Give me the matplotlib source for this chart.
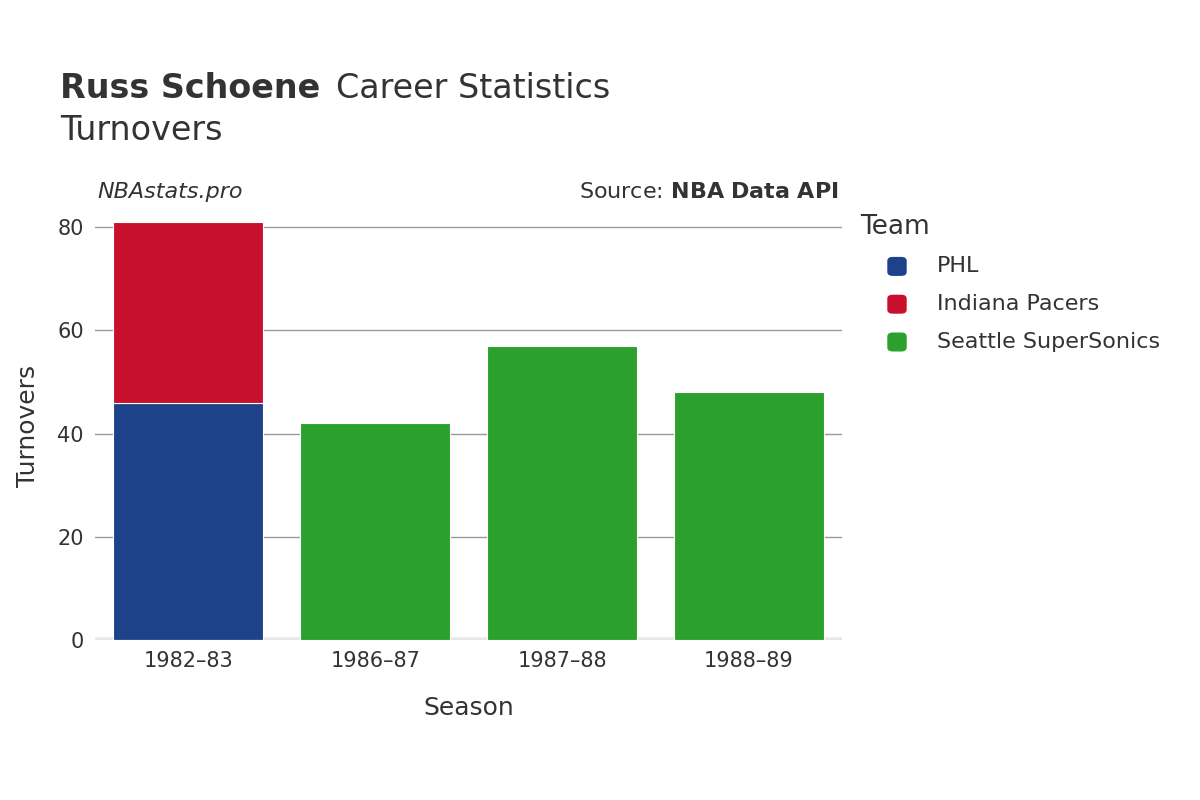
import matplotlib
matplotlib.use("Agg")
import matplotlib.pyplot as plt

seasons = ["1982–83", "1986–87", "1987–88", "1988–89"]
phl = [46, 0, 0, 0]
ind = [35, 0, 0, 0]
sea = [0, 42, 57, 48]
teams = ["PHL", "Indiana Pacers", "Seattle SuperSonics"]
colors = ["#1d4289", "#c8102e", "#2ca02c"]
yticks = [0, 20, 40, 60, 80]

fig = plt.figure(figsize=(12, 8), dpi=100)
ax = fig.add_axes([0.079, 0.2, 0.623, 0.5356])
x = range(len(seasons))
ax.bar(x, phl, width=0.8, color=colors[0], edgecolor="white", linewidth=0.8, zorder=3)
ax.bar(x, ind, width=0.8, bottom=phl, color=colors[1], edgecolor="white", linewidth=0.8, zorder=3)
ax.bar(x, sea, width=0.8, color=colors[2], edgecolor="white", linewidth=0.8, zorder=3)
ax.set_xlim(-0.5, 3.5)
ax.set_ylim(0, 83)
ax.set_yticks(yticks)
ax.set_xticks(list(x))
ax.set_xticklabels(seasons)
ax.grid(axis="y", color="#999999", linewidth=1, zorder=0)
for s in ax.spines.values():
    s.set_visible(False)
ax.axhline(0, color="#e8e8e8", linewidth=4, zorder=2)
ax.tick_params(length=0, labelsize=15, colors="#333333", pad=8)
ax.set_xlabel("Season", fontsize=18, color="#333333", labelpad=18)
ax.set_ylabel("Turnovers", fontsize=18, color="#333333", labelpad=12)

fig.text(0.05, 0.878, "Russ Schoene", fontsize=24, fontweight="bold", color="#333333", va="baseline")
fig.text(0.28, 0.878, "Career Statistics", fontsize=24, color="#333333", va="baseline")
fig.text(0.05, 0.825, "Turnovers", fontsize=24, color="#333333", va="baseline")
fig.text(0.081, 0.752, "NBAstats.pro", fontsize=16, style="italic", color="#333333", va="baseline")
fig.text(0.699, 0.752, "Source: $\\bf{NBA\\ Data\\ API}$", fontsize=16, color="#333333", ha="right", va="baseline")

fig.text(0.717, 0.707, "Team", fontsize=19, color="#333333", va="baseline")
for i, (t, c) in enumerate(zip(teams, colors)):
    y = 0.667 - i * 0.0945 / 2
    fig.patches.append(matplotlib.patches.FancyBboxPatch((0.740, y - 0.011), 0.015, 0.022,
                       boxstyle="round,pad=0,rounding_size=0.004", transform=fig.transFigure,
                       color=c, figure=fig))
    fig.text(0.781, y, t, fontsize=16, color="#333333", va="center")

fig.savefig("out.png")
